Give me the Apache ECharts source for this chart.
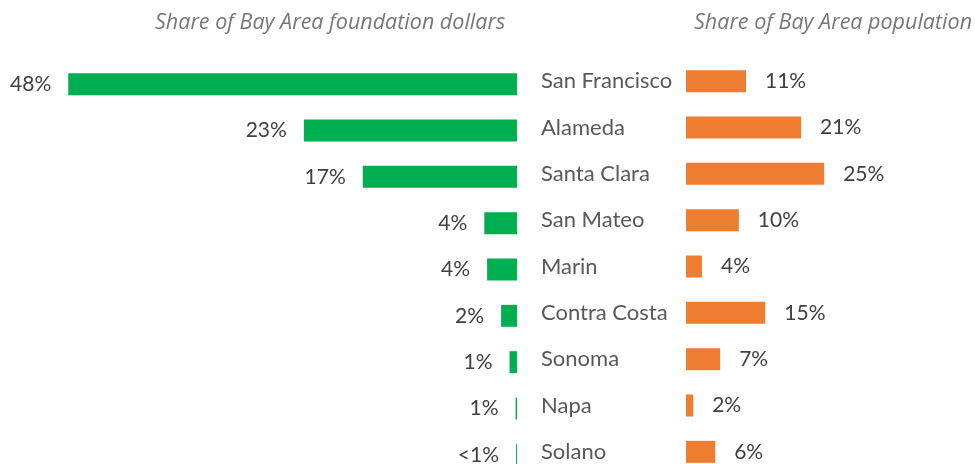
<!DOCTYPE html>
<html>
<head>
<meta charset="utf-8">
<script src="https://cdn.jsdelivr.net/npm/echarts@6/dist/echarts.min.js"></script>
<style>
  html, body { margin: 0; padding: 0; background: #fff; overflow: hidden; }
  /* a little taller than the window: the last row is cut off at the bottom like in the source */
  #chart { width: 975px; height: 484px; }
</style>
</head>
<body>
<div id="chart"></div>
<script>
// counties, top to bottom
var counties = ['San Francisco', 'Alameda', 'Santa Clara', 'San Mateo', 'Marin', 'Contra Costa', 'Sonoma', 'Napa', 'Solano']
// share of foundation dollars (bar lengths) and the printed labels
var dollarValues = [48, 22.8, 16.5, 3.5, 3.2, 1.7, 0.8, 0.15, 0.1]
var dollarLabels = ['48%', '23%', '17%', '4%', '4%', '2%', '1%', '1%', '<1%']
// share of population
var popValues = [10.9, 20.9, 25.1, 9.6, 2.9, 14.4, 6.2, 1.3, 5.3]
var popLabels = ['11%', '21%', '25%', '10%', '4%', '15%', '7%', '2%', '6%']

var chart = echarts.init(document.getElementById('chart'))

var labelFont = 'Lato, "Open Sans", sans-serif'
var titleStyle = {
  color: '#777777',
  fontStyle: 'italic',
  fontWeight: 'normal',
  fontSize: 21.5,
  fontFamily: '"Open Sans", sans-serif'
}

chart.setOption({
  animation: false,
  title: [
    { text: 'Share of Bay Area foundation dollars', left: 150, top: 7, textStyle: titleStyle },
    { text: 'Share of Bay Area population', left: 689, top: 7, textStyle: titleStyle }
  ],
  grid: [
    { left: 0, top: 61, width: 517, height: 417 },
    { left: 686, top: 58, width: 289, height: 417 }
  ],
  xAxis: [
    { gridIndex: 0, type: 'value', min: 0, max: 55.3, inverse: true, show: false },
    { gridIndex: 1, type: 'value', min: 0, max: 52.5, show: false }
  ],
  yAxis: [
    {
      gridIndex: 0, type: 'category', data: counties, inverse: true,
      axisLine: { show: false }, axisTick: { show: false }, axisLabel: { show: false }
    },
    {
      gridIndex: 1, type: 'category', data: counties, inverse: true,
      axisLine: { show: false }, axisTick: { show: false },
      axisLabel: {
        align: 'left',
        margin: 145,
        color: '#595959',
        fontSize: 22,
        fontFamily: labelFont
      }
    }
  ],
  series: [
    {
      name: 'dollars',
      type: 'bar',
      xAxisIndex: 0,
      yAxisIndex: 0,
      barWidth: 22,
      itemStyle: { color: '#00b050' },
      label: {
        show: true,
        position: 'left',
        distance: 17,
        color: '#404040',
        fontSize: 21,
        fontFamily: labelFont,
        formatter: function (p) { return dollarLabels[p.dataIndex] }
      },
      data: dollarValues
    },
    {
      name: 'population',
      type: 'bar',
      xAxisIndex: 1,
      yAxisIndex: 1,
      barWidth: 22,
      itemStyle: { color: '#ed7d31' },
      label: {
        show: true,
        position: 'right',
        distance: 19,
        color: '#404040',
        fontSize: 21,
        fontFamily: labelFont,
        formatter: function (p) { return popLabels[p.dataIndex] }
      },
      data: popValues
    }
  ]
})
</script>
</body>
</html>
